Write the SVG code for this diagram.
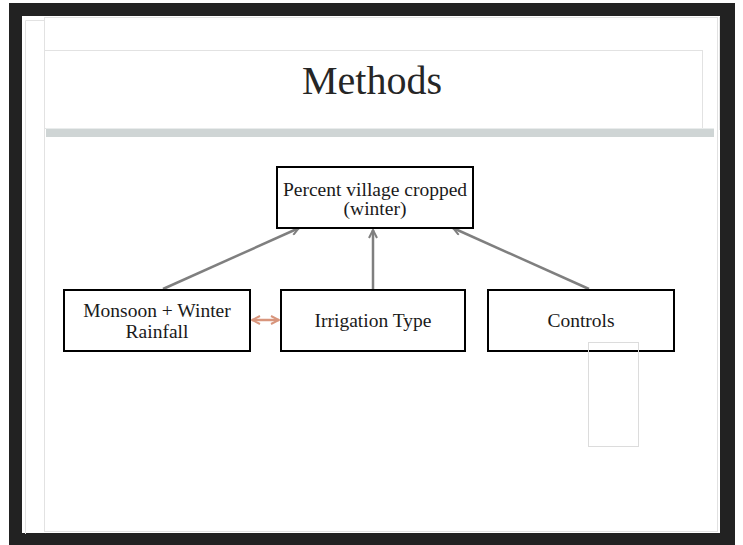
<svg xmlns="http://www.w3.org/2000/svg" width="743" height="545" viewBox="0 0 743 545">
<defs>
<style>
.frame{fill:none;stroke:#e2e2e2;stroke-width:1}
.box{fill:#fff;stroke:#000;stroke-width:2}
.lbl{font-family:"Liberation Serif","Times New Roman",serif;font-size:19.5px;fill:#1a1a1a;text-anchor:middle}
.title{font-family:"Liberation Serif","Times New Roman",serif;font-size:40px;fill:#262626;text-anchor:middle}
.conn{fill:none;stroke:#7f7f7f;stroke-width:2.5}
.dbl{fill:none;stroke:#d8957c;stroke-width:2.5}
</style>
<marker id="ag" viewBox="0 0 10 10" refX="9" refY="5" markerWidth="4" markerHeight="4" orient="auto" markerUnits="strokeWidth">
<path d="M1,1 L9,5 L1,9" fill="none" stroke="#7f7f7f" stroke-width="2"/>
</marker>
<marker id="ao" viewBox="0 0 10 10" refX="9" refY="5" markerWidth="4" markerHeight="4" orient="auto-start-reverse" markerUnits="strokeWidth">
<path d="M1,1 L9,5 L1,9" fill="none" stroke="#d8957c" stroke-width="2"/>
</marker>
</defs>
<rect x="0" y="0" width="743" height="545" fill="#fff"/>
<rect x="9" y="3" width="726" height="542" fill="#222"/>
<rect x="22" y="16" width="698" height="517" fill="#fff"/>
<g id="slide-frame">
<path class="frame" d="M25.5,534 V20.5 H44.5"/>
<rect class="frame" x="44.5" y="17.5" width="673" height="514"/>
<rect class="frame" x="44.5" y="50.5" width="658" height="78"/>
<line class="frame" x1="719.5" y1="17" x2="719.5" y2="130"/>
<rect x="46" y="128" width="668" height="9" fill="#cfd5d5"/>
<line x1="46" y1="128.5" x2="714" y2="128.5" stroke="#e9ecec" stroke-width="1"/>
</g>
<g id="title"><text class="title" x="372" y="94">Methods</text></g>
<g id="connectors">
<line class="conn" x1="163" y1="289" x2="299" y2="228" marker-end="url(#ag)"/>
<line class="conn" x1="373" y1="289" x2="373" y2="230" marker-end="url(#ag)"/>
<line class="conn" x1="589" y1="289" x2="453" y2="228" marker-end="url(#ag)"/>
<line class="dbl" x1="252" y1="320" x2="279" y2="320" marker-start="url(#ao)" marker-end="url(#ao)"/>
</g>
<g id="node-outcome">
<rect class="box" x="277" y="167" width="196" height="61"/>
<text class="lbl" x="375" y="196">Percent village cropped</text>
<text class="lbl" x="375" y="215">(winter)</text>
</g>
<g id="node-rainfall">
<rect class="box" x="64" y="290" width="186" height="61"/>
<text class="lbl" x="157" y="317">Monsoon + Winter</text>
<text class="lbl" x="157" y="338">Rainfall</text>
</g>
<g id="node-irrigation">
<rect class="box" x="281" y="290" width="184" height="61"/>
<text class="lbl" x="373" y="327">Irrigation Type</text>
</g>
<g id="node-controls">
<rect class="box" x="488" y="290" width="186" height="61"/>
<text class="lbl" x="581" y="327">Controls</text>
</g>
<rect x="588.5" y="342.5" width="50" height="104" fill="none" stroke="#dcdcdc" stroke-width="1"/>
</svg>
